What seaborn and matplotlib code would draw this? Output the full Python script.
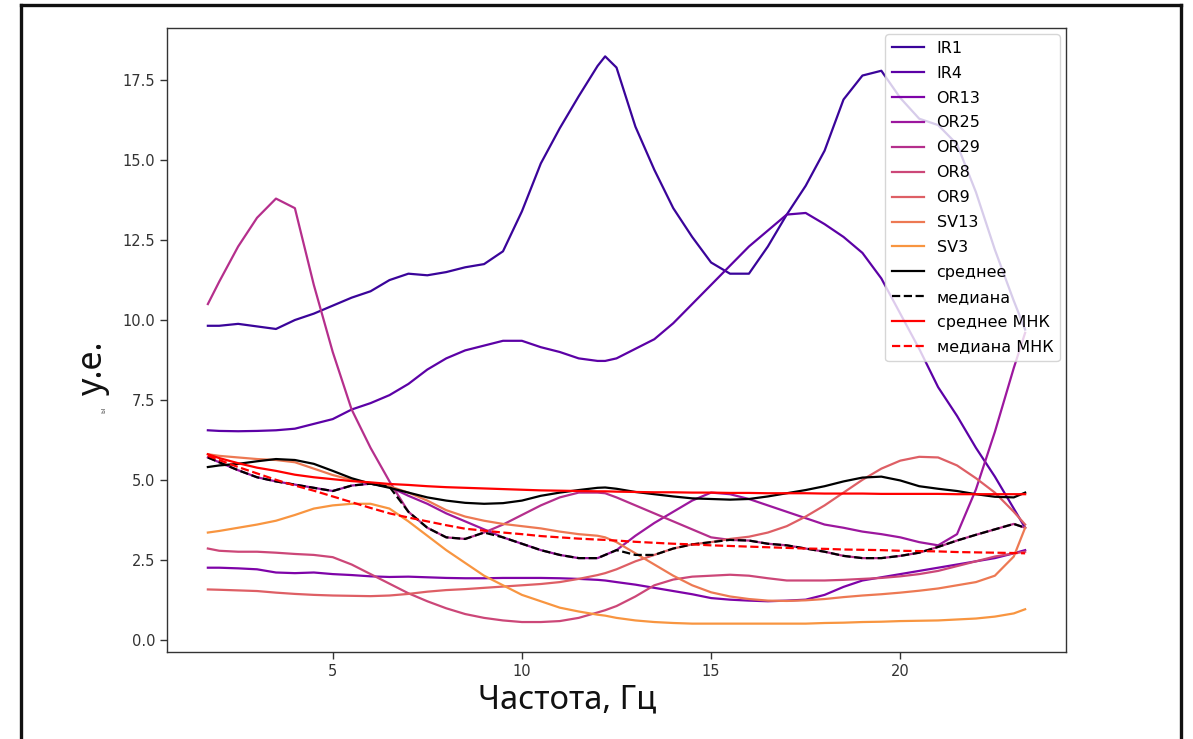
import numpy as np
import pandas as pd
import matplotlib
matplotlib.use("Agg")
import matplotlib.pyplot as plt
import seaborn as sns
from matplotlib.lines import Line2D

# ---------------- data ----------------
freq = [1.7, 2.0, 2.5, 3.0, 3.5, 4.0, 4.5, 5.0, 5.5, 6.0, 6.5, 7.0, 7.5, 8.0, 8.5, 9.0, 9.5,
        10.0, 10.5, 11.0, 11.5, 12.0, 12.2, 12.5, 13.0, 13.5, 14.0, 14.5, 15.0, 15.5, 16.0, 16.5,
        17.0, 17.5, 18.0, 18.5, 19.0, 19.5, 20.0, 20.5, 21.0, 21.5, 22.0, 22.5, 23.0, 23.3]

IR1 = [9.82, 9.82, 9.88, 9.8, 9.72, 10.0, 10.2, 10.45, 10.7, 10.9, 11.25, 11.45, 11.4, 11.5, 11.65, 11.75, 12.15,
       13.4, 14.9, 16.0, 17.0, 17.95, 18.25, 17.9, 16.05, 14.7, 13.5, 12.6, 11.8, 11.45, 11.45, 12.3,
       13.3, 14.2, 15.3, 16.9, 17.65, 17.8, 16.95, 16.3, 16.1, 15.5, 14.0, 12.2, 10.6, 9.7]
IR4 = [6.55, 6.53, 6.52, 6.53, 6.55, 6.6, 6.75, 6.9, 7.2, 7.4, 7.65, 8.0, 8.45, 8.8, 9.05, 9.2, 9.35,
       9.35, 9.15, 9.0, 8.8, 8.72, 8.72, 8.8, 9.1, 9.4, 9.9, 10.5, 11.1, 11.7, 12.3, 12.8,
       13.3, 13.35, 13.0, 12.6, 12.1, 11.3, 10.2, 9.1, 7.9, 7.0, 6.0, 5.1, 4.1, 3.5]
OR13 = [2.25, 2.25, 2.23, 2.2, 2.1, 2.08, 2.1, 2.05, 2.02, 1.98, 1.96, 1.97, 1.95, 1.93, 1.92, 1.92, 1.93,
        1.93, 1.93, 1.92, 1.9, 1.87, 1.85, 1.8, 1.72, 1.62, 1.52, 1.42, 1.3, 1.25, 1.22, 1.2,
        1.22, 1.25, 1.4, 1.65, 1.85, 1.95, 2.05, 2.15, 2.25, 2.35, 2.45, 2.55, 2.7, 2.8]
OR25 = [5.7, 5.55, 5.3, 5.08, 4.95, 4.85, 4.75, 4.65, 4.82, 4.88, 4.78, 4.5, 4.25, 3.95, 3.7, 3.45, 3.2,
        3.0, 2.8, 2.65, 2.55, 2.55, 2.65, 2.8, 3.25, 3.65, 4.0, 4.35, 4.6, 4.55, 4.4, 4.2,
        4.0, 3.8, 3.6, 3.5, 3.38, 3.3, 3.2, 3.05, 2.95, 3.3, 4.7, 6.5, 8.5, 9.6]
OR29 = [10.5, 11.2, 12.3, 13.2, 13.8, 13.5, 11.1, 9.0, 7.2, 6.0, 4.95, 4.0, 3.5, 3.2, 3.15, 3.35, 3.6,
        3.9, 4.2, 4.45, 4.6, 4.6, 4.58, 4.45, 4.2, 3.95, 3.7, 3.45, 3.2, 3.12, 3.1, 3.0,
        2.95, 2.85, 2.75, 2.62, 2.55, 2.55, 2.62, 2.72, 2.9, 3.1, 3.28, 3.45, 3.62, 3.5]
OR8 = [2.85, 2.78, 2.75, 2.75, 2.72, 2.68, 2.65, 2.58, 2.35, 2.05, 1.75, 1.45, 1.2, 0.98, 0.8, 0.68, 0.6,
       0.55, 0.55, 0.58, 0.68, 0.85, 0.92, 1.05, 1.35, 1.7, 1.88, 1.97, 2.0, 2.03, 2.0, 1.92,
       1.85, 1.85, 1.85, 1.87, 1.9, 1.93, 1.98, 2.05, 2.15, 2.3, 2.45, 2.6, 2.7, 2.75]
OR9 = [1.57, 1.56, 1.54, 1.52, 1.47, 1.43, 1.4, 1.38, 1.37, 1.36, 1.38, 1.43, 1.5, 1.55, 1.58, 1.62, 1.66,
       1.7, 1.74, 1.8, 1.9, 2.02, 2.08, 2.2, 2.45, 2.65, 2.85, 2.98, 3.05, 3.15, 3.22, 3.35,
       3.55, 3.85, 4.2, 4.6, 5.0, 5.35, 5.6, 5.72, 5.7, 5.45, 5.05, 4.6, 4.0, 3.6]
SV13 = [5.8, 5.75, 5.7, 5.65, 5.62, 5.55, 5.35, 5.15, 5.0, 4.9, 4.8, 4.6, 4.35, 4.05, 3.85, 3.72, 3.62,
        3.55, 3.48, 3.38, 3.3, 3.25, 3.2, 3.05, 2.7, 2.35, 2.0, 1.7, 1.48, 1.35, 1.27, 1.22,
        1.21, 1.23, 1.27, 1.33, 1.38, 1.42, 1.47, 1.53, 1.6, 1.7, 1.8, 2.0, 2.6, 3.5]
SV3 = [3.35, 3.4, 3.5, 3.6, 3.72, 3.9, 4.1, 4.2, 4.25, 4.25, 4.1, 3.7, 3.25, 2.8, 2.4, 2.0, 1.7,
       1.4, 1.2, 1.0, 0.88, 0.78, 0.75, 0.68, 0.6, 0.55, 0.52, 0.5, 0.5, 0.5, 0.5, 0.5,
       0.5, 0.5, 0.52, 0.53, 0.55, 0.56, 0.58, 0.59, 0.6, 0.63, 0.66, 0.72, 0.82, 0.95]
mean = [5.4, 5.45, 5.5, 5.58, 5.65, 5.62, 5.5, 5.28, 5.05, 4.88, 4.75, 4.6, 4.45, 4.35, 4.28, 4.25, 4.27,
        4.35, 4.5, 4.6, 4.68, 4.75, 4.76, 4.72, 4.62, 4.55, 4.48, 4.42, 4.4, 4.38, 4.4, 4.48,
        4.58, 4.68, 4.8, 4.95, 5.07, 5.1, 4.98, 4.8, 4.72, 4.65, 4.55, 4.47, 4.45, 4.6]
median = [5.7, 5.55, 5.3, 5.08, 4.95, 4.85, 4.75, 4.65, 4.82, 4.88, 4.78, 4.0, 3.5, 3.2, 3.15, 3.35, 3.2,
          3.0, 2.8, 2.65, 2.55, 2.55, 2.65, 2.8, 2.65, 2.65, 2.85, 2.98, 3.05, 3.12, 3.1, 3.0,
          2.95, 2.85, 2.75, 2.62, 2.55, 2.55, 2.62, 2.72, 2.9, 3.1, 3.28, 3.45, 3.62, 3.5]
mean_fit = [5.8, 5.68, 5.52, 5.38, 5.28, 5.16, 5.08, 5.02, 4.96, 4.92, 4.87, 4.84, 4.8, 4.77, 4.75, 4.73, 4.71,
            4.69, 4.67, 4.66, 4.65, 4.64, 4.64, 4.63, 4.62, 4.61, 4.61, 4.6, 4.6, 4.59, 4.59, 4.58,
            4.58, 4.58, 4.57, 4.57, 4.57, 4.56, 4.56, 4.56, 4.56, 4.55, 4.55, 4.55, 4.55, 4.55]
median_fit = [5.75, 5.62, 5.4, 5.2, 5.0, 4.82, 4.66, 4.48, 4.3, 4.12, 3.95, 3.82, 3.7, 3.58, 3.47, 3.41, 3.35,
              3.3, 3.24, 3.2, 3.16, 3.13, 3.12, 3.1, 3.06, 3.03, 3.0, 2.98, 2.95, 2.93, 2.91, 2.89,
              2.87, 2.85, 2.84, 2.82, 2.81, 2.8, 2.78, 2.77, 2.76, 2.74, 2.73, 2.72, 2.71, 2.7]

series_names = ["IR1", "IR4", "OR13", "OR25", "OR29", "OR8", "OR9", "SV13", "SV3"]
series_values = [IR1, IR4, OR13, OR25, OR29, OR8, OR9, SV13, SV3]

x_label = "Частота, Гц"
y_label = "у.е."

# ---------------- figure ----------------
fig = plt.figure(figsize=(11.93, 7.39), dpi=100)
ax = fig.add_axes([167 / 1193, 1 - 652 / 739, (1066 - 167) / 1193, (652 - 28) / 739])

palette = sns.color_palette("plasma", 11)[:9]
lw = 1.6
for name, vals, col in zip(series_names, series_values, palette):
    sns.lineplot(x=freq, y=vals, ax=ax, color=col, linewidth=lw, label=name)

sns.lineplot(x=freq, y=mean, ax=ax, color="black", linewidth=lw, label="среднее")
sns.lineplot(x=freq, y=median, ax=ax, color="black", linewidth=lw, linestyle="--", label="медиана")
sns.lineplot(x=freq, y=mean_fit, ax=ax, color="red", linewidth=lw, label="среднее МНК")
sns.lineplot(x=freq, y=median_fit, ax=ax, color="red", linewidth=lw, linestyle="--", label="медиана МНК")

ax.set_xticks([5, 10, 15, 20])
yt = np.arange(0, 17.6, 2.5)
ax.set_yticks(yt)
ax.set_yticklabels([f"{v:.1f}" for v in yt])
ax.tick_params(labelsize=10.5, colors="#333333", length=5, width=1)
for sp in ax.spines.values():
    sp.set_color("#333333")
    sp.set_linewidth(1.0)
ax.set_xlabel("")
ax.set_ylabel("")

leg = ax.legend(loc="upper right", fontsize=11.5, handlelength=2.0, borderaxespad=0.4,
                labelspacing=0.62)

# slide-style labels
fig.text(567 / 1193, 1 - 700 / 739, x_label, ha="center", va="center",
         fontsize=23.5, family="Noto Sans", color="#111111")
fig.text(93 / 1193, 1 - 368 / 739, y_label, ha="center", va="center",
         fontsize=24.5, family="Noto Sans", rotation=90, color="#111111")
fig.text(104 / 1193, 1 - 410 / 739, "ы", ha="center", va="center",
         fontsize=5, family="Noto Sans", rotation=90, color="#555555")

# surrounding frame of the slide
fcol = "#111111"
fig.add_artist(Line2D([21 / 1193, 21 / 1193], [0, 1 - 5 / 739], transform=fig.transFigure, color=fcol, linewidth=2.4))
fig.add_artist(Line2D([1181 / 1193, 1181 / 1193], [0, 1 - 5 / 739], transform=fig.transFigure, color=fcol, linewidth=2.4))
fig.add_artist(Line2D([21 / 1193, 1181 / 1193], [1 - 5 / 739, 1 - 5 / 739], transform=fig.transFigure, color=fcol, linewidth=2.4))

fig.savefig("out.png", dpi=100)
